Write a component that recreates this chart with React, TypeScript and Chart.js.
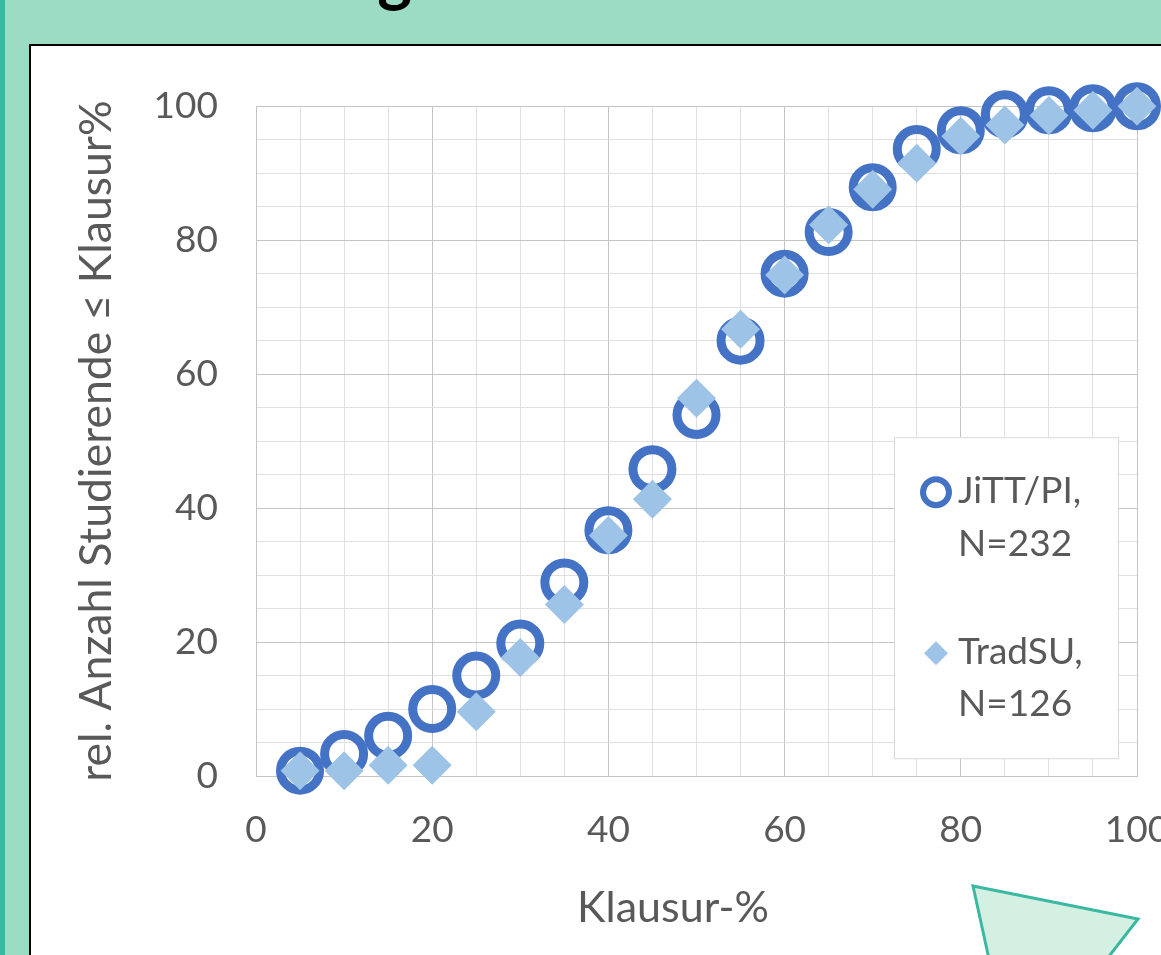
import React, { useEffect, useRef } from "react";
import { Chart, registerables } from "chart.js";

Chart.register(...registerables);

// ---- data ----
const klausurPercent = [5, 10, 15, 20, 25, 30, 35, 40, 45, 50, 55, 60, 65, 70, 75, 80, 85, 90, 95, 100];
const jittValues = [0.8, 3.3, 6.0, 10.0, 15.0, 19.8, 28.9, 36.7, 45.8, 53.9, 65.0, 75.0, 81.2, 87.9, 93.6, 96.4, 98.8, 99.4, 99.7, 100];
const tradValues = [0.8, 0.8, 1.6, 1.6, 9.6, 17.7, 25.6, 35.9, 41.3, 56.4, 66.7, 74.8, 82.3, 87.6, 91.5, 95.5, 97.2, 98.6, 99.4, 100];
const seriesLabels = [
  ["JiTT/PI,", "N=232"],
  ["TradSU,", "N=126"],
];
const xTickLabels = [0, 20, 40, 60, 80, 100];
const yTickLabels = [0, 20, 40, 60, 80, 100];
const xTitle = "Klausur-%";
const yTitle = "rel. Anzahl Studierende \u2264 Klausur%";
const pageTitle = "Verteilung";

const TEXT = "#595959";
const MAJOR = "#c4c4c4";
const MINOR = "#e0e0e0";
const DARK_BLUE = "#4472c4";
const LIGHT_BLUE = "#9dc3e6";
const FONT = "Lato";

const xTitlePlugin = {
  id: "xTitlePlugin",
  afterDraw(chart: any) {
    const ctx = chart.ctx;
    const a = chart.chartArea;
    ctx.save();
    ctx.font = `43px ${FONT}`;
    ctx.fillStyle = TEXT;
    ctx.textAlign = "center";
    ctx.textBaseline = "alphabetic";
    ctx.fillText(xTitle, a.left + 417, a.bottom + 146);
    ctx.restore();
  },
};

const legendPlugin = {
  id: "boxLegend",
  afterDraw(chart: any) {
    const ctx = chart.ctx;
    const a = chart.chartArea;
    const bx = a.right - 243;
    const by = a.top + 331;
    const bw = 224;
    const bh = 321;
    ctx.save();
    ctx.fillStyle = "#ffffff";
    ctx.fillRect(bx, by, bw, bh);
    ctx.strokeStyle = "#d9d9d9";
    ctx.lineWidth = 1;
    ctx.strokeRect(bx + 0.5, by + 0.5, bw, bh);

    // circle marker
    const mx = bx + 42;
    ctx.beginPath();
    ctx.arc(mx, by + 55, 13, 0, Math.PI * 2);
    ctx.strokeStyle = DARK_BLUE;
    ctx.lineWidth = 6;
    ctx.stroke();
    // diamond marker
    const dy = by + 216;
    const r = 12;
    ctx.beginPath();
    ctx.moveTo(mx - r, dy);
    ctx.lineTo(mx, dy - r);
    ctx.lineTo(mx + r, dy);
    ctx.lineTo(mx, dy + r);
    ctx.closePath();
    ctx.fillStyle = LIGHT_BLUE;
    ctx.fill();

    ctx.font = `37px ${FONT}`;
    ctx.fillStyle = TEXT;
    ctx.textAlign = "left";
    ctx.textBaseline = "alphabetic";
    const tx = bx + 64;
    ctx.fillText(seriesLabels[0][0], tx, by + 66);
    ctx.fillText(seriesLabels[0][1], tx, by + 119);
    ctx.fillText(seriesLabels[1][0], tx, by + 227);
    ctx.fillText(seriesLabels[1][1], tx, by + 279);
    ctx.restore();
  },
};

function ChartCanvas() {
  const ref = useRef<HTMLCanvasElement | null>(null);
  useEffect(() => {
    if (!ref.current) return;
    Chart.defaults.font.family = FONT;
    const gridColor = (c: any) =>
      c.tick && c.tick.value % 20 === 0 ? MAJOR : MINOR;
    const chart = new Chart(ref.current, {
      type: "scatter",
      data: {
        datasets: [
          {
            label: seriesLabels[0].join(" "),
            data: klausurPercent.map((x, i) => ({ x, y: jittValues[i] })),
            pointStyle: "circle",
            pointRadius: 19.5,
            pointBorderWidth: 9,
            pointBorderColor: DARK_BLUE,
            pointBackgroundColor: "rgba(0,0,0,0)",
            showLine: false,
            clip: false as any,
            order: 1,
          },
          {
            label: seriesLabels[1].join(" "),
            data: klausurPercent.map((x, i) => ({ x, y: tradValues[i] })),
            pointStyle: "rectRot",
            pointRadius: 19.5,
            pointBorderWidth: 0,
            pointBackgroundColor: LIGHT_BLUE,
            pointBorderColor: LIGHT_BLUE,
            showLine: false,
            clip: false as any,
            order: 0,
          },
        ],
      },
      options: {
        responsive: false,
        animation: false,
        events: [],
        layout: { padding: { left: 0, top: 59, right: 94, bottom: 0 } },
        plugins: {
          legend: { display: false },
          tooltip: { enabled: false },
          title: { display: false },
        },
        scales: {
          x: {
            type: "linear",
            min: 0,
            max: 100,
            grid: { color: gridColor, lineWidth: 1, drawTicks: false },
            border: { color: MAJOR, width: 1 },
            ticks: {
              stepSize: 5,
              autoSkip: false,
              maxRotation: 0,
              padding: 32,
              color: TEXT,
              font: { size: 37, family: FONT },
              callback: (v: any) => (xTickLabels.includes(Number(v)) ? String(v) : ""),
            },
            afterFit: (s: any) => {
              s.height = 179;
            },
          },
          y: {
            type: "linear",
            min: 0,
            max: 100,
            grid: { color: gridColor, lineWidth: 1, drawTicks: false },
            border: { color: MAJOR, width: 1 },
            ticks: {
              stepSize: 5,
              autoSkip: false,
              padding: 38,
              color: TEXT,
              font: { size: 37, family: FONT },
              callback: (v: any) => (yTickLabels.includes(Number(v)) ? String(v) : ""),
            },
            title: {
              display: true,
              text: yTitle,
              color: TEXT,
              font: { size: 44.5, family: FONT },
              padding: { top: 39, bottom: 0 },
            },
            afterFit: (s: any) => {
              s.width = 225;
            },
          },
        },
      },
      plugins: [legendPlugin, xTitlePlugin],
    });
    return () => chart.destroy();
  }, []);
  return (
    <canvas
      ref={ref}
      width={1200}
      height={909}
      style={{ position: "absolute", left: 0, top: 0, width: 1200, height: 909 }}
    />
  );
}

export default function App() {
  return (
    <div
      style={{
        position: "fixed",
        left: 0,
        top: 0,
        width: 1161,
        height: 955,
        background: "#9cdcc4",
        overflow: "hidden",
      }}
    >
      <div style={{ position: "absolute", left: 0, top: 0, width: 5, height: 955, background: "#3bb8a1" }} />
      <div
        style={{
          position: "absolute",
          left: 0,
          top: -59,
          width: 412,
          textAlign: "right",
          font: `bold 66px ${FONT}`,
          lineHeight: "64px",
          color: "#000",
          whiteSpace: "nowrap",
        }}
      >
        {pageTitle}
      </div>
      <div
        style={{
          position: "absolute",
          left: 29,
          top: 44,
          width: 1300,
          height: 1000,
          background: "#fff",
          border: "2px solid #000",
          boxSizing: "border-box",
        }}
      >
        <ChartCanvas />
      </div>
      <svg
        width={1161}
        height={955}
        style={{ position: "absolute", left: 0, top: 0, pointerEvents: "none" }}
      >
        <polygon
          points="973,886 1138,919 1075,1000 998,1000"
          fill="#d3f0e3"
          stroke="#3bb8a1"
          strokeWidth={3}
        />
      </svg>
    </div>
  );
}
